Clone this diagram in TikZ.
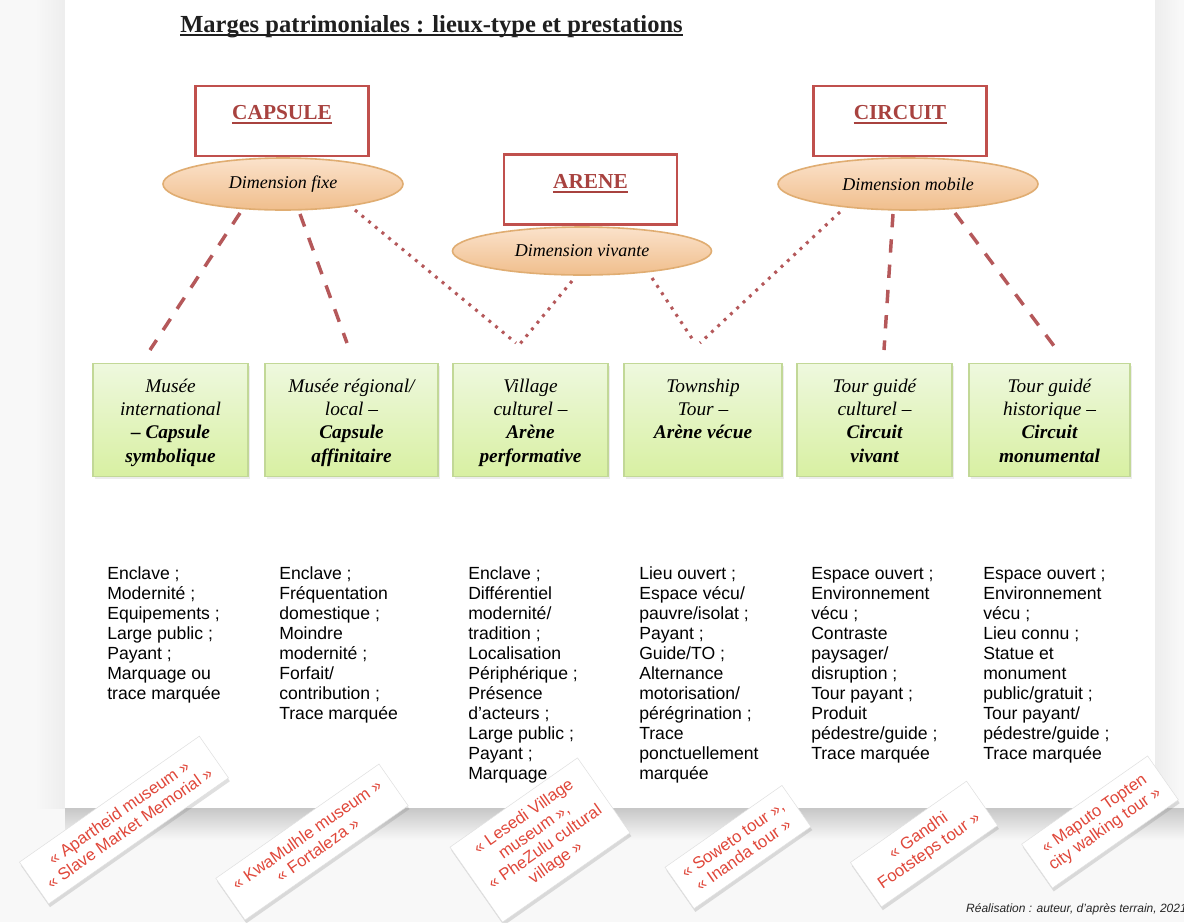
\documentclass[tikz,border=0pt]{standalone}
\usepackage{fontspec}
\setmainfont{Liberation Serif}
\setsansfont{Liberation Sans}
\usetikzlibrary{shadows,calc,shapes.geometric}
\definecolor{boxred}{HTML}{C0504D}
\definecolor{titred}{HTML}{A8423F}
\definecolor{lnred}{HTML}{B5585A}
\definecolor{elltop}{HTML}{FBE2CB}
\definecolor{ellbot}{HTML}{F0BE8C}
\definecolor{elldraw}{HTML}{E0AD72}
\definecolor{gtop}{HTML}{EEF8DE}
\definecolor{gbot}{HTML}{D8F0A2}
\definecolor{gdraw}{HTML}{C2D897}
\definecolor{lblred}{HTML}{E0473A}
\definecolor{pagebg}{HTML}{F8F8F8}
\begin{document}
\begin{tikzpicture}[x=0.75pt,y=-0.75pt,
  topbox/.style={draw=boxred, line width=2.2pt, fill=white, minimum width=0.75pt*173, minimum height=0.75pt*70, inner sep=0},
  toptxt/.style={font=\bfseries\fontsize{16}{19}\selectfont, text=titred, inner sep=0, anchor=base},
  dimell/.style={ellipse, draw=elldraw, line width=1.2pt, top color=elltop, bottom color=ellbot, font=\itshape\fontsize{13.5}{16}\selectfont, inner sep=0},
  gbox/.style={draw=gdraw, line width=0.8pt, top color=gtop, bottom color=gbot, minimum height=0.75pt*113, inner sep=0, anchor=north, drop shadow={opacity=0.15, shadow xshift=1.5pt, shadow yshift=-1.5pt}},
  gtxt/.style={font=\itshape\fontsize{14.5}{17.5}\selectfont, align=center, anchor=north, inner sep=0},
  body/.style={font=\sffamily\fontsize{13.2}{15}\selectfont, align=left, anchor=north west, inner sep=0},
  card/.style={fill=white, draw=black!12, line width=0.4pt, rotate=35, font=\sffamily\fontsize{12.5}{14}\selectfont, text=lblred, align=center, inner xsep=8pt, inner ysep=7.5pt, drop shadow={opacity=0.25, shadow xshift=1pt, shadow yshift=-2.5pt}},
  dashconn/.style={draw=lnred, line width=2.6pt, dash pattern=on 10pt off 9pt},
  dotconn/.style={draw=lnred, line width=2.3pt, dash pattern=on 2.2pt off 4.3pt}
]
\useasboundingbox (0,0) rectangle (1184,922);
% page background
\fill[pagebg] (0,0) rectangle (1184,922);
\shade[left color=pagebg, right color=black!7] (35,0) rectangle (65,808);
\shade[left color=black!7, right color=pagebg] (1155,0) rectangle (1180,808);
\fill[white] (65,0) rectangle (1155,808);
\shade[top color=black!22, bottom color=pagebg] (65,808) rectangle (1184,840);

% title
\node[font=\bfseries\fontsize{18.4}{22}\selectfont, anchor=base west, inner sep=0, text=black!88] (title) at (180,32) {Marges patrimoniales : lieux-type et prestations};
\draw[black!88, line width=1.4pt] ([yshift=-2.4pt]title.base west) -- ([yshift=-2.4pt]title.base east);

% top boxes
\node[topbox] (capsule) at (282,121) {};
\node[toptxt] (capsulet) at (282,119) {CAPSULE};
\draw[titred, line width=1pt] ([yshift=-3pt]capsulet.base west) -- ([yshift=-3pt]capsulet.base east);
\node[topbox] (arene) at (590.5,189.5) {};
\node[toptxt] (arenet) at (590.5,188) {ARENE};
\draw[titred, line width=1pt] ([yshift=-3pt]arenet.base west) -- ([yshift=-3pt]arenet.base east);
\node[topbox] (circuit) at (900,121) {};
\node[toptxt] (circuitt) at (900,119) {CIRCUIT};
\draw[titred, line width=1pt] ([yshift=-3pt]circuitt.base west) -- ([yshift=-3pt]circuitt.base east);

% ellipses
\node[dimell, minimum width=0.75pt*240, minimum height=0.75pt*52] (fixe) at (283,184) {Dimension fixe};
\node[dimell, minimum width=0.75pt*259, minimum height=0.75pt*48] (vivante) at (582,251) {Dimension vivante};
\node[dimell, minimum width=0.75pt*260, minimum height=0.75pt*52] (mobile) at (908,184) {Dimension mobile};

% connector ends
\coordinate (e1) at (150,350);
\coordinate (e2) at (347,343);
\coordinate (e3) at (516,343);
\coordinate (e4) at (519,345);
\coordinate (e5) at (695,343);
\coordinate (e6) at (700,343);
\coordinate (e7) at (884,350);
\coordinate (e8) at (1057,350);

\draw[dashconn] ($(fixe.center)+(-43,29)$) -- (e1);
\draw[dashconn] ($(fixe.center)+(17,30)$) -- (e2);
\draw[dotconn] ($(fixe.center)+(72,26)$) -- (e3);
\draw[dotconn] ($(vivante.center)+(-10,30)$) -- (e4);
\draw[dotconn] ($(vivante.center)+(70,27)$) -- (e5);
\draw[dotconn] ($(mobile.center)+(-68,28)$) -- (e6);
\draw[dashconn] ($(mobile.center)+(-15,30)$) -- (e7);
\draw[dashconn] ($(mobile.center)+(47,29)$) -- (e8);

% green boxes
\node[gbox, minimum width=0.75pt*155] (g1) at (170.5,363) {};
\node[gbox, minimum width=0.75pt*173] (g2) at (351.5,363) {};
\node[gbox, minimum width=0.75pt*155] (g3) at (530.5,363) {};
\node[gbox, minimum width=0.75pt*158] (g4) at (703,363) {};
\node[gbox, minimum width=0.75pt*155] (g5) at (874.5,363) {};
\node[gbox, minimum width=0.75pt*161] (g6) at (1049.5,363) {};

\node[gtxt] (g1t) at (170.5,375.7) {\strut Musée\\international\\\textbf{– Capsule}\\\textbf{symbolique}};
\node[gtxt] (g2t) at (351.5,375.7) {\strut Musée régional/\\local –\\\textbf{Capsule}\\\textbf{affinitaire}};
\node[gtxt] (g3t) at (530.5,375.7) {\strut Village\\culturel –\\\textbf{Arène}\\\textbf{performative}};
\node[gtxt] (g4t) at (703,375.7) {\strut Township\\Tour –\\\textbf{Arène vécue}};
\node[gtxt] (g5t) at (874.5,375.7) {\strut Tour guidé\\culturel –\\\textbf{Circuit}\\\textbf{vivant}};
\node[gtxt] (g6t) at (1049.5,375.7) {\strut Tour guidé\\historique –\\\textbf{Circuit}\\\textbf{monumental}};

% body columns
\node[body] (c1) at (107,565) {\strut Enclave ;\\Modernité ;\\Equipements ;\\Large public ;\\Payant ;\\Marquage ou\\trace marquée};
\node[body] (c2) at (279,565) {\strut Enclave ;\\Fréquentation\\domestique ;\\Moindre\\modernité ;\\Forfait/\\contribution ;\\Trace marquée};
\node[body] (c3) at (468,565) {\strut Enclave ;\\Différentiel\\modernité/\\tradition ;\\Localisation\\Périphérique ;\\Présence\\d’acteurs ;\\Large public ;\\Payant ;\\Marquage};
\node[body] (c4) at (639,565) {\strut Lieu ouvert ;\\Espace vécu/\\pauvre/isolat ;\\Payant ;\\Guide/TO ;\\Alternance\\motorisation/\\pérégrination ;\\Trace\\ponctuellement\\marquée};
\node[body] (c5) at (811,565) {\strut Espace ouvert ;\\Environnement\\vécu ;\\Contraste\\paysager/\\disruption ;\\Tour payant ;\\Produit\\pédestre/guide ;\\Trace marquée};
\node[body] (c6) at (983,565) {\strut Espace ouvert ;\\Environnement\\vécu ;\\Lieu connu ;\\Statue et\\monument\\public/gratuit ;\\Tour payant/\\pédestre/guide ;\\Trace marquée};

% tilted cards
\node[card] (k1) at (124,820) {« Apartheid museum »\\« Slave Market Memorial »};
\node[card] (k2) at (312,842) {« KwaMulhle museum »\\« Fortaleza »};
\node[card] (k3) at (540,840) {« Lesedi Village\\museum »,\\« PheZulu cultural\\village »};
\node[card] (k4) at (738,847) {« Soweto tour »,\\« Inanda tour »};
\node[card] (k5) at (924,844) {« Gandhi\\Footsteps tour »};
\node[card] (k6) at (1100,822) {« Maputo Topten\\city walking tour »};

% credit
\node[font=\sffamily\itshape\fontsize{9}{11}\selectfont, anchor=base east, inner sep=0, text=black!85] (credit) at (1187,912) {Réalisation : auteur, d’après terrain, 2021};
\end{tikzpicture}
\end{document}
